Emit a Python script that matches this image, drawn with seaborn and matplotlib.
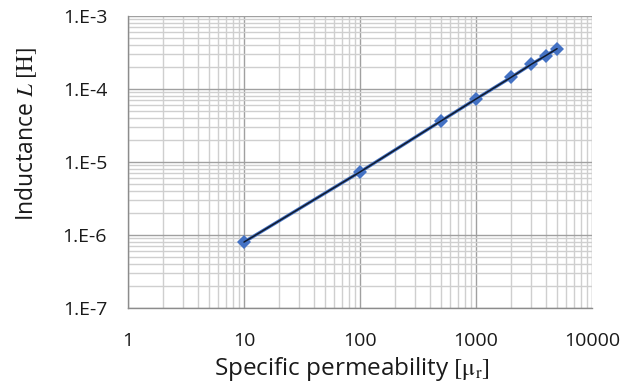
import matplotlib
matplotlib.use("Agg")
import matplotlib.pyplot as plt
import seaborn as sns
import pandas as pd
from matplotlib.ticker import FixedLocator, LogLocator, NullFormatter

# Data
permeability = [10, 100, 500, 1000, 2000, 3000, 4000, 5000]
inductance = [8.0e-7, 7.3e-6, 3.65e-5, 7.3e-5, 1.44e-4, 2.18e-4, 2.87e-4, 3.57e-4]
x_ticks = [1, 10, 100, 1000, 10000]
x_tick_labels = ["1", "10", "100", "1000", "10000"]
y_ticks = [1e-7, 1e-6, 1e-5, 1e-4, 1e-3]
y_tick_labels = ["1.E-7", "1.E-6", "1.E-5", "1.E-4", "1.E-3"]

df = pd.DataFrame({"mu": permeability, "L": inductance})

sns.set_theme(style="white")
plt.rcParams["font.family"] = ["Open Sans", "DejaVu Sans"]
plt.rcParams["mathtext.fontset"] = "stix"

fig = plt.figure(figsize=(6.34, 3.83), dpi=100)
ax = fig.add_axes([128 / 634, 75 / 383, (592 - 128) / 634, (308 - 16) / 383])

ax.set_xscale("log")
ax.set_yscale("log")

sns.lineplot(data=df, x="mu", y="L", ax=ax, color="#4472C4", linewidth=2.4,
             marker="D", markersize=7, markeredgewidth=0, zorder=3)
sns.lineplot(data=df, x="mu", y="L", ax=ax, color="#101a2c", linewidth=1.1, zorder=4)

ax.set_xlim(1, 10000)
ax.set_ylim(1e-7, 1e-3)

ax.xaxis.set_major_locator(FixedLocator(x_ticks))
ax.set_xticklabels(x_tick_labels)
ax.yaxis.set_major_locator(FixedLocator(y_ticks))
ax.set_yticklabels(y_tick_labels)
ax.xaxis.set_minor_locator(LogLocator(base=10, subs=range(2, 10)))
ax.yaxis.set_minor_locator(LogLocator(base=10, subs=range(2, 10)))
ax.xaxis.set_minor_formatter(NullFormatter())
ax.yaxis.set_minor_formatter(NullFormatter())

ax.grid(True, which="major", color="#a0a0a0", linewidth=1.0, zorder=0)
ax.grid(True, which="minor", color="#cfcfcf", linewidth=1.0, zorder=0)
ax.set_axisbelow(True)

for side in ["top", "right"]:
    ax.spines[side].set_visible(False)
for side in ["left", "bottom"]:
    ax.spines[side].set_color("#8c8c8c")
    ax.spines[side].set_linewidth(1.0)

ax.tick_params(axis="both", which="major", direction="out", length=4.5, width=1,
               color="#8c8c8c", labelsize=14, labelcolor="#1a1a1a")
ax.tick_params(axis="y", pad=10.5)
ax.tick_params(axis="x", pad=13)
ax.tick_params(axis="both", which="minor", length=0)

ax.set_xlabel("Specific permeability $[\\mathrm{\\mu_r}]$", fontsize=17.5, color="#1a1a1a")
ax.set_ylabel("Inductance $L\\ [\\mathrm{H}]$", fontsize=16.5, color="#1a1a1a")
ax.xaxis.set_label_coords(0.482, -0.162)
ax.yaxis.set_label_coords(-0.192, 0.596)

fig.savefig("out.png", dpi=100)
